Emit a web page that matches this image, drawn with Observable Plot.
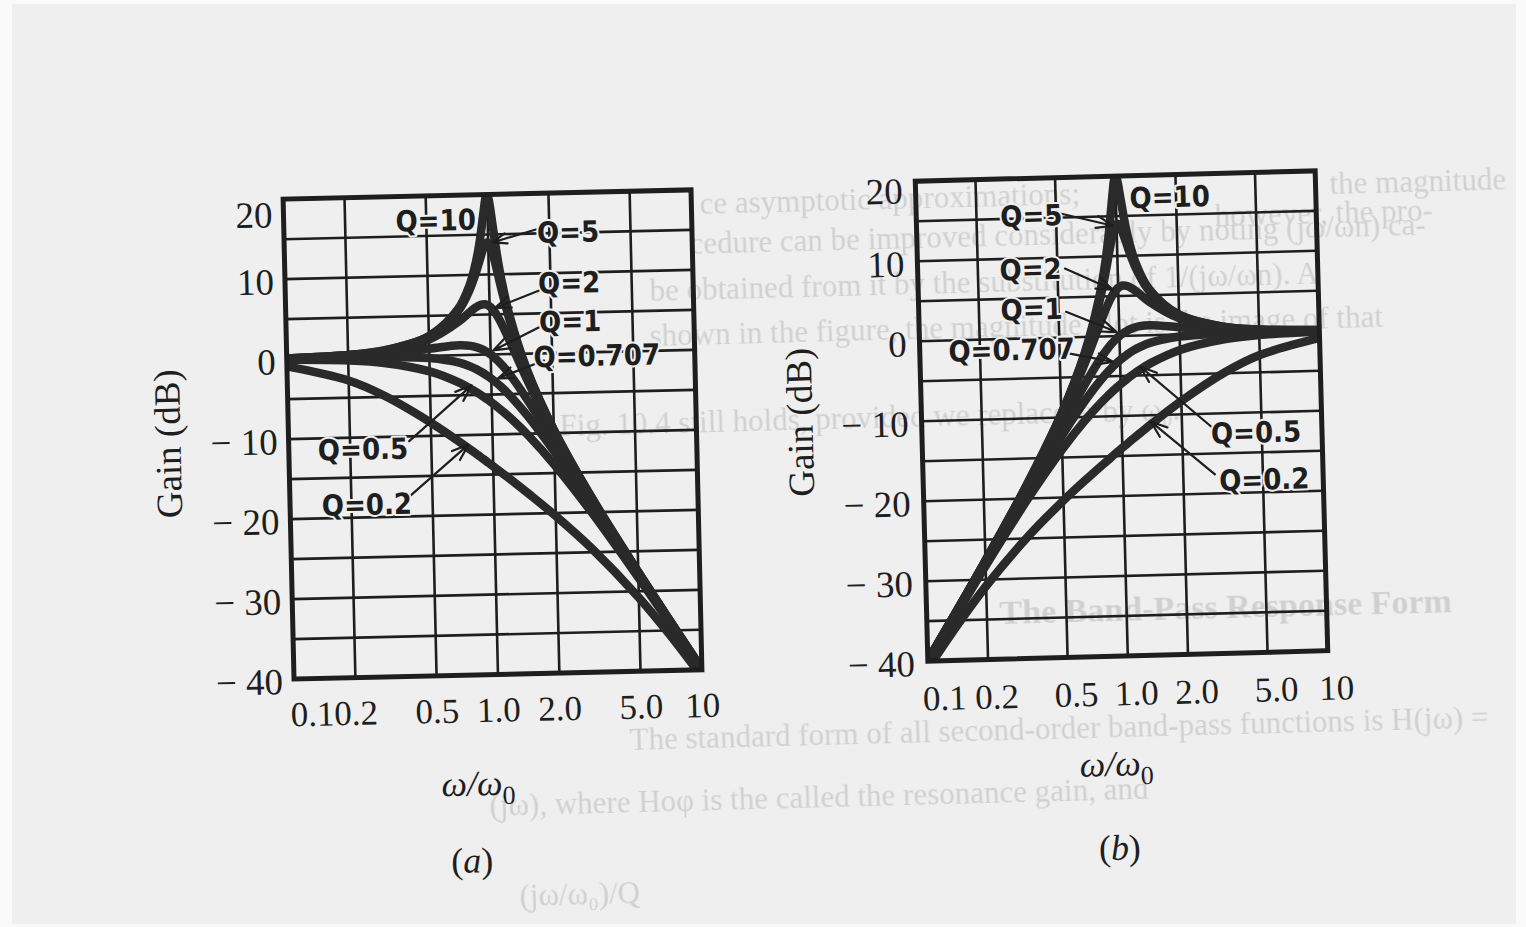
<!DOCTYPE html>
<html>
<head>
<meta charset="utf-8">
<script src="https://cdn.jsdelivr.net/npm/d3@7"></script>
<script src="https://cdn.jsdelivr.net/npm/@observablehq/plot@0.6"></script>
<style>
html,body{margin:0;padding:0;width:1526px;height:927px;overflow:hidden;background:#fafafa;}
#page{position:absolute;left:12px;top:4px;width:1504px;height:920px;background:#efefef;}
.faint{position:absolute;font-family:'Liberation Serif','DejaVu Serif',serif;font-size:31px;color:#d0d0d0;white-space:nowrap;transform:rotate(-1.5deg);transform-origin:0 100%;line-height:1;filter:blur(0.5px);}
</style>
</head>
<body>
<div id="page"></div>
<div class="faint" style="left:1330px;top:168px;">the magnitude</div>
<div class="faint" style="left:700px;top:188px;">ce asymptotic approximations;</div>
<div class="faint" style="left:1215px;top:200px;">however, the pro-</div>
<div class="faint" style="left:690px;top:228px;">cedure can be improved considerably by noting (jω/ωn) ca-</div>
<div class="faint" style="left:650px;top:275px;">be obtained from it by the substitution of 1/(jω/ωn). A</div>
<div class="faint" style="left:650px;top:320px;">shown in the figure, the magnitude plot is the image of that</div>
<div class="faint" style="left:560px;top:410px;">Fig. 10.4 still holds, provided we replace ω by ω₀.</div>
<div class="faint" style="left:1000px;top:596px;font-weight:bold;font-size:34px;">The Band-Pass Response Form</div>
<div class="faint" style="left:630px;top:724px;">The standard form of all second-order band-pass functions is H(jω) =</div>
<div class="faint" style="left:490px;top:790px;">(jω), where Hoφ is the called the resonance gain, and</div>
<div class="faint" style="left:520px;top:880px;">(jω/ω₀)/Q</div>
<div id="chart"></div>
<script>
// ---------- data ----------
const qNames = ["Q=0.2", "Q=0.5", "Q=0.707", "Q=1", "Q=2", "Q=5", "Q=10"];

// normalized frequency samples for the low-pass panel (a)
const lpFreq = [0.1, 0.2, 0.3, 0.5, 0.7, 0.8, 0.85, 0.9, 0.95, 0.97, 0.98, 0.99, 1.0, 1.01, 1.02, 1.03, 1.05, 1.1, 1.15, 1.25, 1.5, 2, 3, 5, 7, 10];
// matching samples for the high-pass panel (b) (mirror image about ω/ω0 = 1)
const hpFreq = [10, 5, 3.333, 2, 1.429, 1.25, 1.176, 1.111, 1.053, 1.031, 1.020, 1.010, 1.0, 0.990, 0.980, 0.971, 0.952, 0.909, 0.870, 0.8, 0.667, 0.5, 0.333, 0.2, 0.143, 0.1];

// gain in dB, one list per Q
const gainQ02  = [-0.9, -2.84, -4.88, -8.33, -10.97, -12.08, -12.59, -13.07, -13.54, -13.72, -13.80, -13.89, -13.98, -14.07, -14.15, -14.24, -14.40, -14.81, -15.21, -15.95, -17.62, -20.37, -24.61, -30.80, -35.48, -40.90];
const gainQ05  = [-0.09, -0.34, -0.75, -1.94, -3.46, -4.30, -4.72, -5.15, -5.59, -5.76, -5.85, -5.93, -6.02, -6.11, -6.19, -6.28, -6.45, -6.89, -7.32, -8.17, -10.24, -13.98, -20.0, -28.30, -33.98, -40.09];
const gainQ0707 = [0, -0.01, -0.03, -0.26, -0.93, -1.49, -1.82, -2.19, -2.59, -2.75, -2.84, -2.92, -3.01, -3.10, -3.19, -3.27, -3.45, -3.92, -4.39, -5.37, -7.83, -12.30, -19.14, -27.97, -33.81, -40.0];
const gainQ1   = [0.04, 0.17, 0.37, 0.90, 1.25, 1.14, 0.97, 0.73, 0.40, 0.25, 0.17, 0.09, 0, -0.09, -0.18, -0.27, -0.47, -0.98, -1.54, -2.74, -5.81, -11.14, -18.63, -27.79, -33.72, -39.96];
const gainQ2   = [0.08, 0.31, 0.70, 2.04, 4.17, 5.38, 5.89, 6.22, 6.29, 6.22, 6.17, 6.10, 6.02, 5.93, 5.82, 5.70, 5.44, 4.60, 3.62, 1.51, -3.27, -10.0, -18.21, -27.65, -33.65, -39.92];
const gainQ5   = [0.09, 0.35, 0.80, 2.42, 5.53, 8.09, 9.75, 11.64, 13.41, 13.86, 13.98, 14.02, 13.98, 13.85, 13.64, 13.36, 12.63, 10.34, 8.04, 4.21, -2.18, -9.62, -18.09, -27.61, -33.63, -39.91];
const gainQ10  = [0.09, 0.35, 0.81, 2.48, 5.77, 8.66, 10.75, 13.55, 17.32, 18.89, 19.52, 19.91, 20.0, 19.75, 19.19, 18.44, 16.67, 12.50, 9.31, 4.79, -2.0, -9.56, -18.07, -27.61, -33.63, -39.91];
const gains = [gainQ02, gainQ05, gainQ0707, gainQ1, gainQ2, gainQ5, gainQ10];

// axes / grid
const xGrid = [0.2, 0.5, 1, 2, 5];
const yGrid = [-35, -30, -25, -20, -15, -10, -5, 0, 5, 10, 15];
const xTicks = [0.1, 0.2, 0.5, 1, 2, 5, 10];
const xTickLabels = ["0.1", "0.2", "0.5", "1.0", "2.0", "5.0", "10"];
const yTicks = [20, 10, 0, -10, -20, -30, -40];
const yTickLabels = ["20", "10", "0", "\u2212 10", "\u2212 20", "\u2212 30", "\u2212 40"];

// label positions (ω/ω0, dB), same order as qNames
const aLabelX = [0.238, 0.231, 3.31, 2.47, 2.47, 2.47, 0.556];
const aLabelY = [-18.5, -11.6, -0.55, 3.8, 8.65, 15.0, 16.8];
const aArrowX1 = [0.39, 0.39, 1.82, 1.82, 1.82, 1.72, null];
const aArrowY1 = [-17.4, -10.6, -0.9, 3.5, 8.0, 15.5, null];
const aArrowX2 = [0.76, 0.8, 1.08, 1.03, 1.06, 1.05, null];
const aArrowY2 = [-11.2, -3.8, -3.0, 0.5, 5.8, 14.0, null];

const bLabelX = [5.07, 4.68, 0.288, 0.367, 0.367, 0.376, 1.86];
const bLabelY = [-18.5, -12.6, -1.5, 3.5, 8.5, 15.2, 17.1];
const bArrowX1 = [2.88, 2.88, 0.53, 0.545, 0.545, 0.525, null];
const bArrowY1 = [-17.6, -11.9, -1.9, 3.2, 8.6, 15.5, null];
const bArrowX2 = [1.4, 1.26, 0.92, 0.97, 0.94, 0.96, null];
const bArrowY2 = [-10.8, -3.9, -3.2, 0.5, 5.8, 13.8, null];

// ---------- drawing ----------
const ink = "#1e1e1e";
const curveInk = "#2a2a2a";
const bg = "#efefef";
const serif = "'Liberation Serif', 'DejaVu Serif', serif";
const narrow = "'Liberation Sans Narrow', 'DejaVu Sans Condensed', 'Arial Narrow', sans-serif";

function makePanel(o) {
  const rows = [];
  qNames.forEach((q, i) => gains[i].forEach((g, j) => rows.push({f: o.freq[j], g, q})));
  const labels = qNames.map((q, i) => ({text: q, x: o.labX[i], y: o.labY[i]}));
  const arrows = qNames.map((q, i) => ({q, x1: o.ax1[i], y1: o.ay1[i], x2: o.ax2[i], y2: o.ay2[i]})).filter(d => d.x1 != null);
  const xt = xTicks.map((v, i) => ({v, label: xTickLabels[i]}));
  const yt = yTicks.map((v, i) => ({v, label: yTickLabels[i]}));
  const svg = Plot.plot({
    width: o.width, height: o.height,
    marginLeft: o.ml, marginRight: o.mr, marginTop: o.mt, marginBottom: o.mb,
    style: {background: "transparent", overflow: "visible"},
    x: {type: "log", domain: [0.1, 10], axis: null},
    y: {domain: [-40, 20], axis: null},
    marks: [
      Plot.ruleX(xGrid, {stroke: ink, strokeWidth: 2.6}),
      Plot.ruleY(yGrid, {stroke: ink, strokeWidth: 2.6}),
      Plot.line(rows, {x: "f", y: "g", z: "q", stroke: curveInk, strokeWidth: 8.5, curve: "catmull-rom", clip: true}),
      Plot.frame({stroke: ink, strokeWidth: 5}),
      Plot.arrow(arrows, {x1: "x1", y1: "y1", x2: "x2", y2: "y2", stroke: ink, strokeWidth: 2.2, headLength: 12, headAngle: 40}),
      Plot.text(labels, {x: "x", y: "y", text: "text", fontFamily: narrow, fontWeight: "bold", fontSize: 29, fill: ink, stroke: bg, strokeWidth: 4}),
      // y tick labels
      Plot.text(yt.slice(1), {y: "v", text: "label", frameAnchor: "left", textAnchor: "end", lineAnchor: "middle", dx: o.ytdx, dy: 3, fontFamily: serif, fontSize: 37, fill: ink}),
      Plot.text(yt.slice(0, 1), {y: "v", text: "label", frameAnchor: "left", textAnchor: "end", lineAnchor: "middle", dx: o.ytdx, dy: o.topDy, fontFamily: serif, fontSize: 37, fill: ink}),
      // x tick labels
      Plot.text(xt.slice(0, 1), {x: "v", text: "label", frameAnchor: "bottom", textAnchor: "start", lineAnchor: "middle", dx: o.firstDx, dy: o.xtdy, fontFamily: serif, fontSize: 35, fill: ink}),
      Plot.text(xt.slice(1), {x: "v", text: "label", frameAnchor: "bottom", textAnchor: "middle", lineAnchor: "middle", dx: o.xtdx, dy: o.xtdy, fontFamily: serif, fontSize: 35, fill: ink}),
      // axis titles and caption
      Plot.text(["Gain (dB)"], {text: d => d, frameAnchor: "left", textAnchor: "middle", lineAnchor: "middle", rotate: -90, dx: o.ylabDx, dy: o.ylabDy, fontFamily: serif, fontSize: 37, fill: ink}),
      Plot.text(["ω/ω0"], {text: d => d, frameAnchor: "bottom", textAnchor: "middle", lineAnchor: "middle", dx: o.xlabDx, dy: o.xlabDy, fontFamily: serif, fontSize: 36, fill: ink}),
      Plot.text([o.caption], {text: d => d, frameAnchor: "bottom", textAnchor: "middle", lineAnchor: "middle", dx: o.capDx, dy: o.capDy, fontFamily: serif, fontSize: 36, fill: ink})
    ]
  });
  // rich text touches: italic ω with subscript 0, italic caption letter
  d3.select(svg).selectAll("text").each(function () {
    const t = this.textContent;
    const sel = d3.select(this);
    if (t === "ω/ω0") {
      this.textContent = "";
      sel.append("tspan").attr("font-style", "italic").text("ω/ω");
      sel.append("tspan").attr("font-size", 26).attr("dy", 9).text("0");
    } else if (t === o.caption) {
      this.textContent = "";
      sel.append("tspan").text("(");
      sel.append("tspan").attr("font-style", "italic").text(t.slice(1, -1));
      sel.append("tspan").text(")");
    }
  });
  svg.style.position = "absolute";
  svg.style.left = o.left + "px";
  svg.style.top = o.top + "px";
  svg.style.transformOrigin = `${o.ml + (o.width - o.ml - o.mr) / 2}px ${o.mt + (o.height - o.mt - o.mb) / 2}px`;
  svg.style.transform = `rotate(${o.rot}deg)`;
  return svg;
}

const chart = document.getElementById("chart");
chart.appendChild(makePanel({
  freq: lpFreq, labX: aLabelX, labY: aLabelY,
  ax1: aArrowX1, ay1: aArrowY1, ax2: aArrowX2, ay2: aArrowY2,
  left: 130, top: 160, width: 600, height: 740,
  ml: 158, mr: 34, mt: 34, mb: 226, rot: -1.3,
  ytdx: -11, topDy: 16, xtdy: 36, xtdx: 0, firstDx: -4,
  ylabDx: -120, ylabDy: 2, xlabDx: -22, xlabDy: 109, capDx: -30, capDy: 186,
  caption: "(a)"
}));
chart.appendChild(makePanel({
  freq: hpFreq, labX: bLabelX, labY: bLabelY,
  ax1: bArrowX1, ay1: bArrowY1, ax2: bArrowX2, ay2: bArrowY2,
  left: 760, top: 140, width: 620, height: 740,
  ml: 161, mr: 59, mt: 35.5, mb: 224.5, rot: -1.5,
  ytdx: -13, topDy: 10, xtdy: 38, xtdx: 8, firstDx: -6,
  ylabDx: -121, ylabDy: -2, xlabDx: -14, xlabDy: 108, capDx: -13, capDy: 192,
  caption: "(b)"
}));
</script>
</body>
</html>
